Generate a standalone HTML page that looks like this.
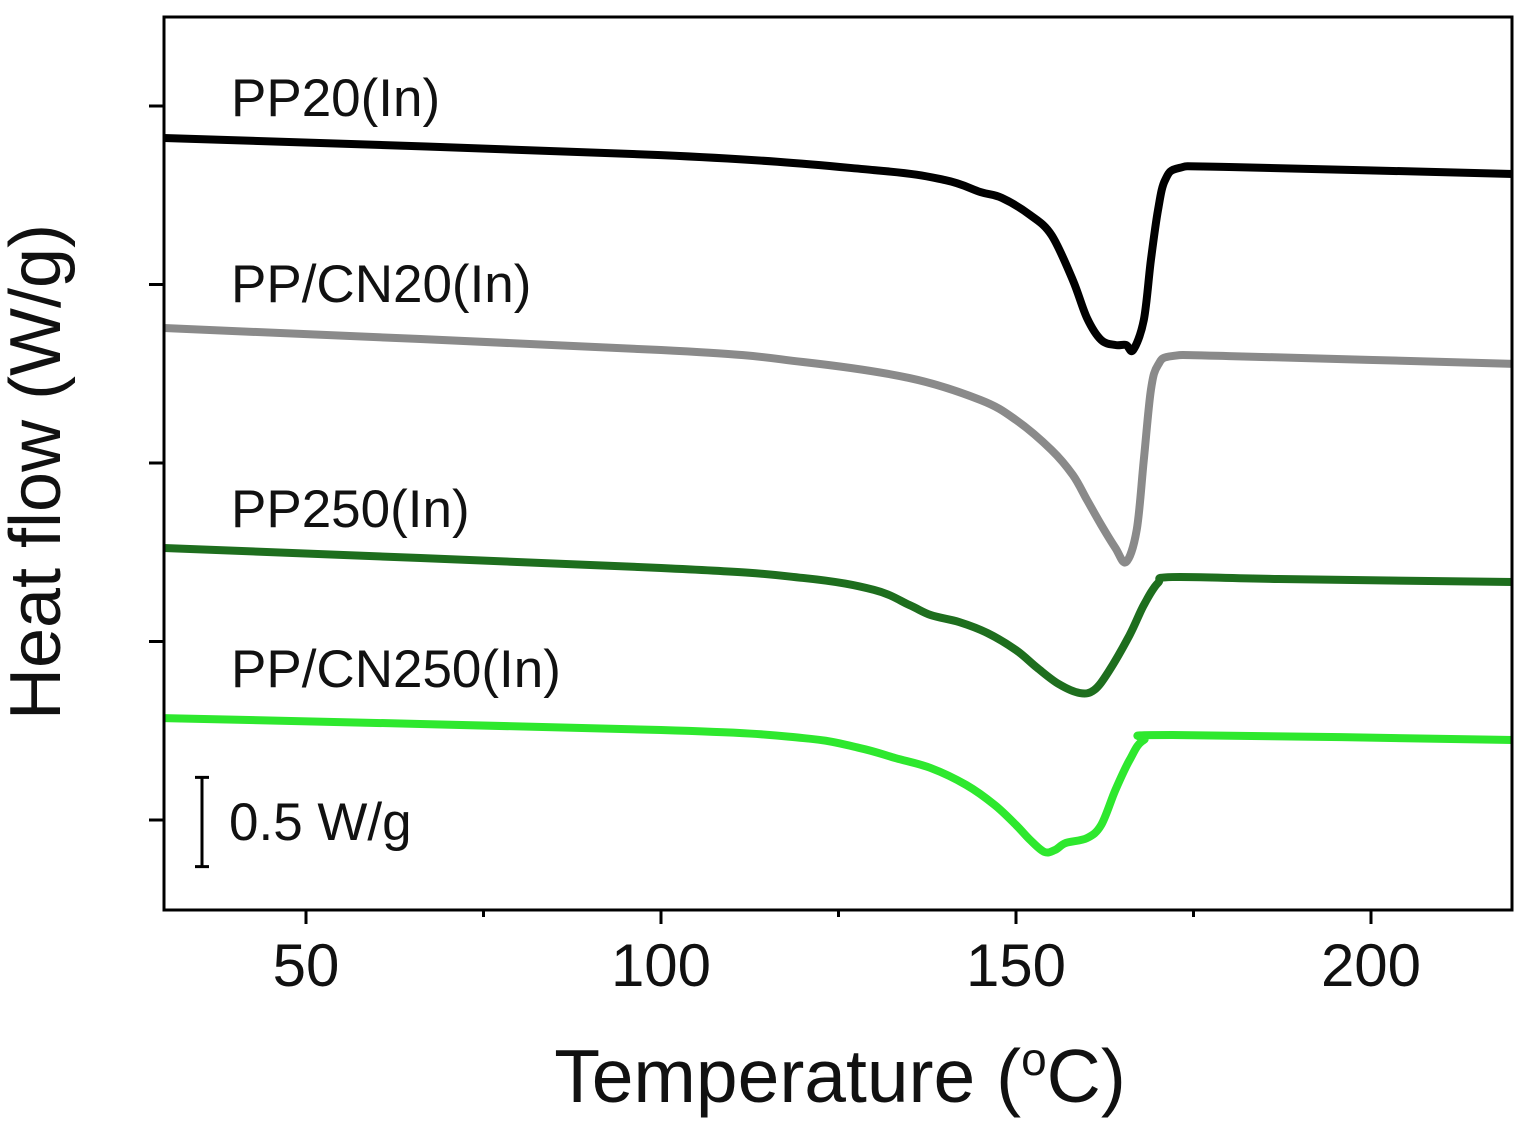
<!DOCTYPE html>
<html><head><meta charset="utf-8"><style>
body{margin:0;background:#fff;}
svg{display:block;font-family:"Liberation Sans",Arial,sans-serif;}
</style></head><body>
<svg width="1530" height="1140" viewBox="0 0 1530 1140">
<g id="plot"></g>
</svg>
<script>
const xTicks=[50,100,150,200];
const xMinor=[75,125,175];
const yTicks=[0,1,2,3,4];
const tPP20=[30,100,130,140,145,148,152,155,158,160,162,164,165.5,166.5,168,169,170,171,173,180,220];
const vPP20=[3.821,3.725,3.641,3.585,3.518,3.485,3.389,3.277,3.025,2.812,2.689,2.661,2.661,2.633,2.801,3.137,3.417,3.585,3.653,3.658,3.619];
const tPPCN20=[30,100,120,135,145,150,155,158,160,162,164,165.5,167,168,169,170,172,180,220];
const vPPCN20=[2.756,2.633,2.566,2.476,2.353,2.241,2.073,1.933,1.793,1.653,1.524,1.445,1.625,2.017,2.409,2.549,2.599,2.599,2.555];
const tPP250=[30,100,120,130,135,138,142,146,150,153,156,159,161,163,166,168,170,172,187,220];
const vPP250=[1.524,1.412,1.356,1.289,1.204,1.148,1.109,1.047,0.952,0.852,0.762,0.711,0.728,0.829,1.036,1.204,1.328,1.361,1.350,1.333];
const tPPCN250=[30,100,120,128,133,138,143,147,150,152,154,155.5,157,160,162,164,166,168,172,220];
const vPPCN250=[0.571,0.504,0.459,0.403,0.347,0.291,0.196,0.084,-0.028,-0.112,-0.179,-0.168,-0.129,-0.101,-0.028,0.168,0.336,0.448,0.476,0.448];
const seriesNames=["PP20(In)","PP/CN20(In)","PP250(In)","PP/CN250(In)"];

const L=164,R=1512,T=17,B=910;
const x=t=>306+(t-50)*7.1;
const y=v=>820-v*178.5;
const NS="http://www.w3.org/2000/svg";
const g=document.getElementById('plot');
function mk(tag,attrs,parent){const e=document.createElementNS(NS,tag);for(const k in attrs)e.setAttribute(k,attrs[k]);(parent||g).appendChild(e);return e;}
function path(ts,vs){const p=ts.map((t,i)=>[x(t),y(vs[i])]);let d=`M${p[0][0]},${p[0][1]}`;
for(let i=0;i<p.length-1;i++){const p0=p[i-1]||p[i],p1=p[i],p2=p[i+1],p3=p[i+2]||p2;
const c1=[p1[0]+(p2[0]-p0[0])/6,p1[1]+(p2[1]-p0[1])/6],c2=[p2[0]-(p3[0]-p1[0])/6,p2[1]-(p3[1]-p1[1])/6];
d+=` C${c1[0]},${c1[1]} ${c2[0]},${c2[1]} ${p2[0]},${p2[1]}`;}return d;}

const series=[[tPP20,vPP20,"#000000","pp20-curve"],[tPPCN20,vPPCN20,"#8a8a8a","pp-cn20-curve"],[tPP250,vPP250,"#1e6e1e","pp250-curve"],[tPPCN250,vPPCN250,"#2ee82e","pp-cn250-curve"]];
series.forEach(s=>{const e=mk('path',{d:path(s[0],s[1]),fill:'none',stroke:s[2],'stroke-width':8,'stroke-linejoin':'round'});

});

const frame=mk('rect',{x:L,y:T,width:R-L,height:B-T,fill:'none',stroke:'#000','stroke-width':3});



xTicks.forEach(t=>{const tk=mk('line',{x1:x(t),x2:x(t),y1:B,y2:B+14,stroke:'#000','stroke-width':3});


const lb=mk('text',{x:x(t),y:986,'font-size':60,'text-anchor':'middle',fill:'#111'});lb.textContent=t;

});
xMinor.forEach(t=>{const tk=mk('line',{x1:x(t),x2:x(t),y1:B,y2:B+7,stroke:'#000','stroke-width':3});

});
yTicks.forEach(v=>{const tk=mk('line',{x1:L-15,x2:L,y1:y(v),y2:y(v),stroke:'#000','stroke-width':3});

});

const labY=[116,302,527,687];
seriesNames.forEach((n,i)=>{const lb=mk('text',{x:231,y:labY[i],'font-size':53,fill:'#111'});lb.textContent=n;

});

const sb=mk('path',{d:`M202,${y(0.25)+2} V${y(-0.25)+2} M195,${y(0.25)+2} H209 M195,${y(-0.25)+2} H209`,stroke:'#000','stroke-width':3,fill:'none'});


const sbl=mk('text',{x:229,y:840,'font-size':53,fill:'#111'});sbl.textContent='0.5 W/g';



const xt=mk('text',{x:840,y:1102,'font-size':75,'text-anchor':'middle',fill:'#111'});
xt.innerHTML='Temperature (<tspan dy="-27" font-size="46">o</tspan><tspan dy="27">C)</tspan>';


const yt=mk('text',{x:0,y:0,'font-size':72,'text-anchor':'middle',fill:'#111',transform:'translate(60,472) rotate(-90)'});yt.textContent='Heat flow (W/g)';


</script>
</body></html>
